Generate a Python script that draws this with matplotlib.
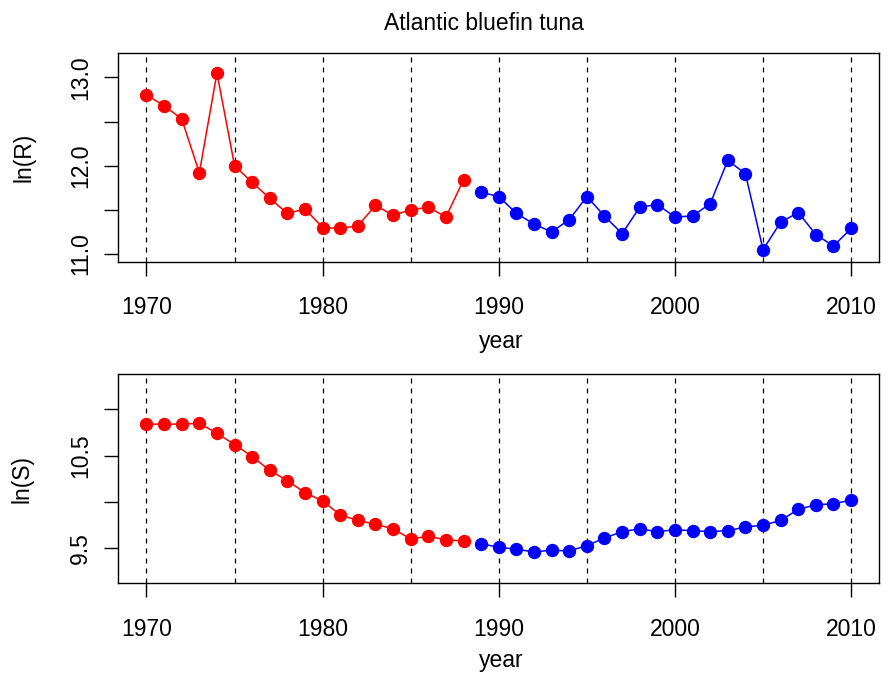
import numpy as np
import matplotlib
matplotlib.use("Agg")
import matplotlib.pyplot as plt

plt.rcParams['font.family'] = ['Liberation Sans', 'DejaVu Sans']

years = np.arange(1970, 2011)
split_year = 1988

lnR = [12.80, 12.68, 12.53, 11.92, 13.05, 12.00, 11.81, 11.63, 11.46, 11.51,
       11.30, 11.29, 11.32, 11.55, 11.44, 11.50, 11.53, 11.42, 11.84, 11.70,
       11.65, 11.46, 11.34, 11.25, 11.39, 11.65, 11.43, 11.23, 11.53, 11.56,
       11.42, 11.43, 11.57, 12.06, 11.91, 11.05, 11.36, 11.47, 11.22, 11.09,
       11.29]

lnS = [10.84, 10.84, 10.84, 10.85, 10.74, 10.62, 10.49, 10.34, 10.23, 10.10,
       10.01, 9.86, 9.80, 9.76, 9.71, 9.60, 9.63, 9.59, 9.58, 9.55,
       9.51, 9.49, 9.46, 9.48, 9.47, 9.53, 9.61, 9.68, 9.71, 9.68,
       9.70, 9.69, 9.68, 9.69, 9.73, 9.75, 9.80, 9.92, 9.97, 9.98,
       10.02]

vlines = np.arange(1970, 2011, 5)
xticks = [1970, 1980, 1990, 2000, 2010]

FS = 16.5
W, H = 889, 676
fig = plt.figure(figsize=(W/100, H/100), dpi=100)

def add_ax(left, right, top, bottom):
    return fig.add_axes([left/W, 1 - bottom/H, (right-left)/W, (bottom-top)/H])

ax1 = add_ax(118.3, 879.3, 52.7, 261.7)
ax2 = add_ax(118.3, 879.3, 374.3, 583.3)

def draw(ax, vals, ylim, yticks, ylabels):
    vals = np.asarray(vals)
    m1 = years <= split_year
    m2 = years > split_year
    for v in vlines:
        ax.axvline(v, color='black', ls=(0, (4, 4)), lw=0.9, zorder=1)
    ax.plot(years[m1], vals[m1], '-o', color='#ff0000', lw=1.1, ms=8.6, zorder=3)
    ax.plot(years[m2], vals[m2], '-o', color='#0000ff', lw=1.1, ms=8.6, zorder=3)
    ax.set_xlim(1968.4, 2011.6)
    ax.set_ylim(*ylim)
    ax.set_xticks(xticks)
    ax.set_xticklabels([str(x) for x in xticks], fontsize=FS)
    ax.set_yticks(yticks)
    ax.set_yticklabels(ylabels, fontsize=FS, rotation=90, va='center')
    ax.tick_params(direction='out', length=10, width=1)
    ax.tick_params(axis='x', pad=15)
    ax.tick_params(axis='y', pad=9)
    for s in ax.spines.values():
        s.set_linewidth(1)

draw(ax1, lnR, (10.913, 13.28), [11.0, 11.5, 12.0, 12.5, 13.0],
     ['11.0', '', '12.0', '', '13.0'])
draw(ax2, lnS, (9.122, 11.378), [9.5, 10.0, 10.5, 11.0],
     ['9.5', '', '10.5', ''])

def ftext(x, y, s, **kw):
    fig.text(x/W, 1 - y/H, s, fontsize=FS, **kw)

ftext(483.5, 30, 'Atlantic bluefin tuna', ha='center', va='baseline')
ftext(501, 347.5, 'year', ha='center', va='baseline')
ftext(501, 667, 'year', ha='center', va='baseline')
ftext(24, 157, 'ln(R)', ha='center', va='center', rotation=90)
ftext(22, 479, 'ln(S)', ha='center', va='center', rotation=90)

fig.savefig('out.png', dpi=100)
